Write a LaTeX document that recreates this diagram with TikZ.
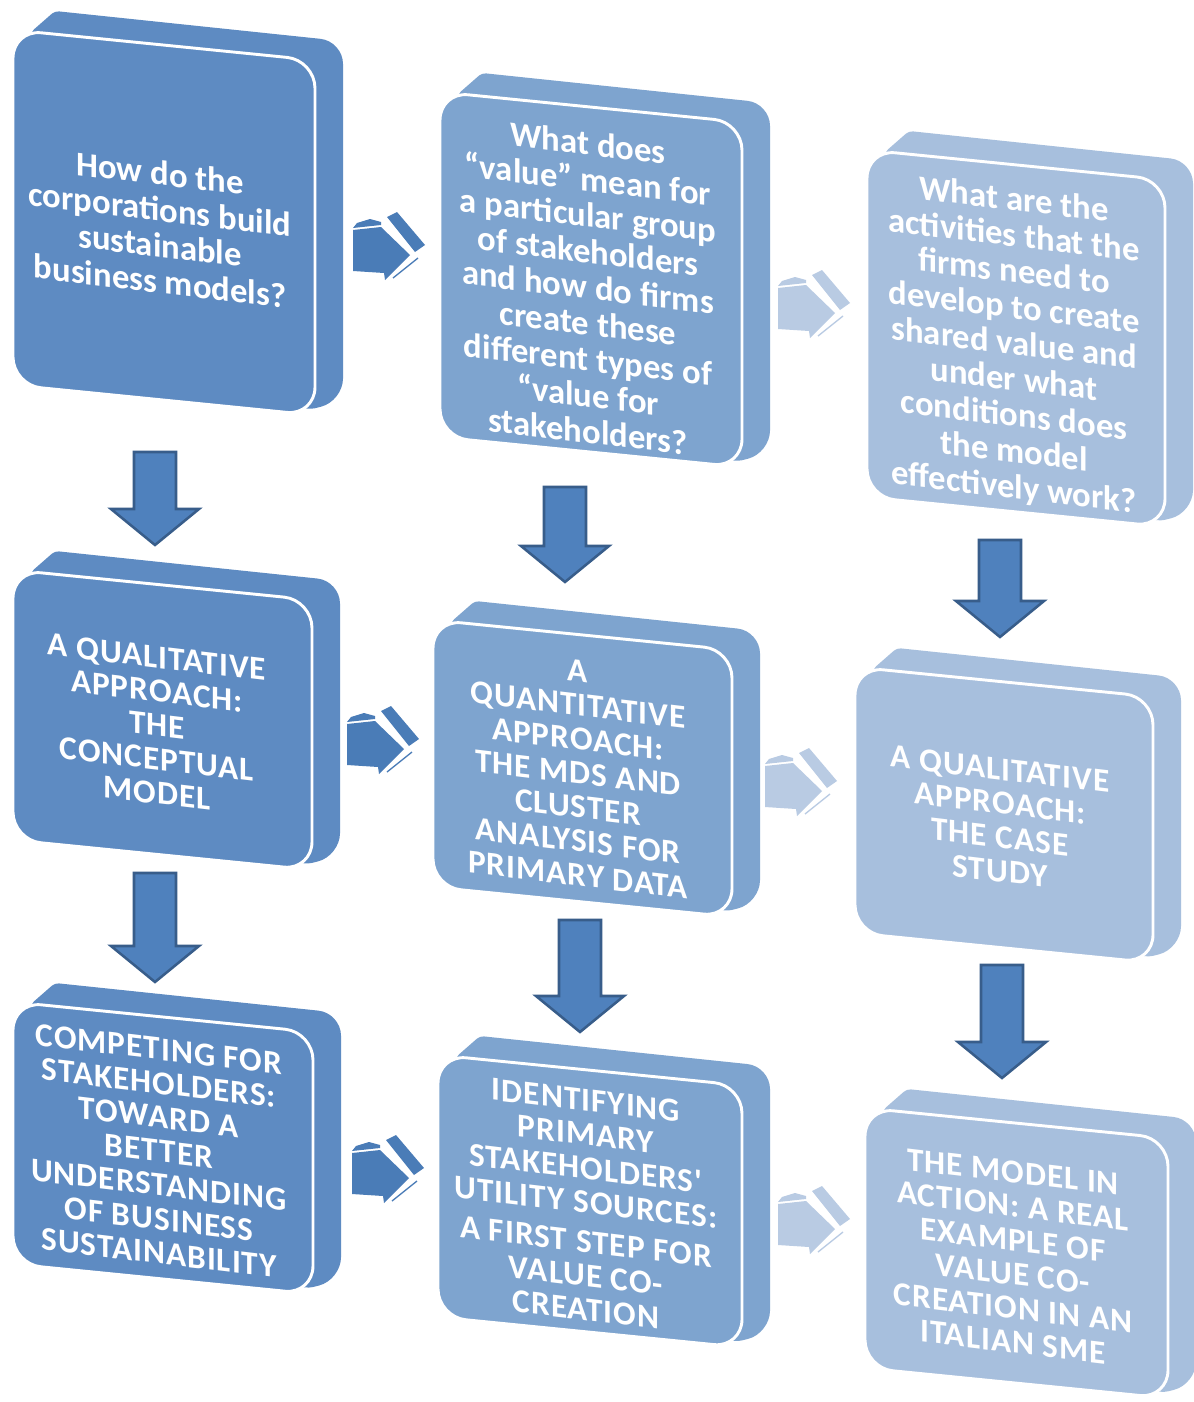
\documentclass[tikz,border=0pt]{standalone}
\usepackage{fontspec}
\setmainfont{Carlito}
\newfontfamily\capsfont{Carlito}[LetterSpace=3]
\definecolor{colA}{RGB}{94,139,194}
\definecolor{colB}{RGB}{126,164,207}
\definecolor{colC}{RGB}{167,191,221}
\definecolor{arrfill}{RGB}{79,129,189}
\definecolor{arrline}{RGB}{56,93,138}
\definecolor{rdark}{RGB}{74,124,183}
\definecolor{rlight}{RGB}{185,203,227}
\tikzset{
  boxtext/.style={text=white, font=\fontsize{26}{27}\selectfont\bfseries, align=center, yslant=-0.12, inner sep=0pt},
  capstext/.style={boxtext, font=\fontsize{25}{25.5}\selectfont\capsfont\bfseries},
  downarr/.style={fill=arrfill, draw=arrline, line width=1.9pt, line join=miter},
}
% #1 x0, #2 y0, #3 w, #4 h, #5 colour
\newcommand{\cubebox}[5]{%
  \fill[#5, rounded corners=3pt] ({#1+18},{#2+2}) -- ({#1+42},{#2-19}) [rounded corners=17pt] -- ({#1+#3+28},{#2-19+0.1*#3}) -- ({#1+#3+28},{#2+#4+0.1*#3-14}) [rounded corners=3pt] -- ({#1+#3-4},{#2+#4+0.1*#3-6}) -- ({#1+18},{#2+#4-20}) -- cycle;
  \filldraw[fill=#5, draw=white, line width=2.2pt, rounded corners=21pt] (#1,#2) -- ({#1+#3},{#2+0.1*#3}) -- ({#1+#3},{#2+#4+0.1*#3}) -- (#1,{#2+#4}) -- cycle;
}
\newcommand{\downarr}[3]{%
  \draw[downarr] ({#1-21},#2) -- ({#1+21},#2) -- ({#1+21},{#3-36}) -- ({#1+44},{#3-36}) -- (#1,#3) -- ({#1-44},{#3-36}) -- ({#1-21},{#3-36}) -- cycle;}
\newcommand{\rightarr}[3]{%
  \begin{scope}[shift={(#1,#2)}]
    \fill[#3] (0,18) -- (28,15) -- (57,43) -- (32,68) -- (31,61) -- (0,59) -- cycle;
    \fill[#3] (4,11) -- (17,7) -- (28,10) -- (28,13) -- (0,16) -- cycle;
    \fill[#3] (34,5) -- (44,0) -- (72,33) -- (62,40) -- cycle;
    \draw[#3, line width=1pt] (65,46) -- (40,66);
  \end{scope}}
\begin{document}
\begin{tikzpicture}[x=0.75pt,y=-0.75pt]
\useasboundingbox (0,0) rectangle (1194,1402);
\fill[white] (0,0) rectangle (1194,1402);
% boxes
\cubebox{13}{30}{302}{355}{colA}
\cubebox{440}{92}{302}{345}{colB}
\cubebox{867}{150}{298}{347}{colC}
\cubebox{13}{570}{299}{270}{colA}
\cubebox{433}{620}{299}{267}{colB}
\cubebox{855}{667}{298}{266}{colC}
\cubebox{13}{1002}{300}{262}{colA}
\cubebox{438}{1055}{304}{262}{colB}
\cubebox{865}{1108}{303}{260}{colC}
% texts
\node[boxtext] (A) at (160,227) {How do the\\corporations build\\sustainable\\business models?};
\node[boxtext] (B) at (588,287) {What does\\“value” mean for\\a particular group\\of stakeholders\\and how do firms\\create these\\different types of\\“value for\\stakeholders?};
\node[boxtext] (C) at (1014,345) {What are the\\activities that the\\firms need to\\develop to create\\shared value and\\under what\\conditions does\\the model\\effectively work?};
\node[capstext] (D) at (157,725) {A QUALITATIVE\\APPROACH:\\THE\\CONCEPTUAL\\MODEL};
\node[capstext] (E) at (578,773) {A\\QUANTITATIVE\\APPROACH:\\THE MDS AND\\CLUSTER\\ANALYSIS FOR\\PRIMARY DATA};
\node[capstext] (F) at (1000,820) {A QUALITATIVE\\APPROACH:\\THE CASE\\STUDY};
\node[capstext] (G) at (159,1151) {COMPETING FOR\\STAKEHOLDERS:\\TOWARD A\\BETTER\\UNDERSTANDING\\OF BUSINESS\\SUSTAINABILITY};
\node[capstext] (H) at (586,1205) {IDENTIFYING\\PRIMARY\\STAKEHOLDERS'\\UTILITY SOURCES:\\[4pt]A FIRST STEP FOR\\VALUE CO-\\CREATION};
\node[capstext] (I) at (1013,1257) {THE MODEL IN\\ACTION: A REAL\\EXAMPLE OF\\VALUE CO-\\CREATION IN AN\\ITALIAN SME};
% down arrows
\downarr{155}{452}{545}
\downarr{565}{487}{582}
\downarr{1000}{540}{637}
\downarr{155}{873}{982}
\downarr{580}{920}{1032}
\downarr{1002}{965}{1078}
% right arrows
\rightarr{353}{212}{rdark}
\rightarr{778}{270}{rlight}
\rightarr{347}{706}{rdark}
\rightarr{765}{748}{rlight}
\rightarr{352}{1135}{rdark}
\rightarr{778}{1186}{rlight}
\end{tikzpicture}
\end{document}
